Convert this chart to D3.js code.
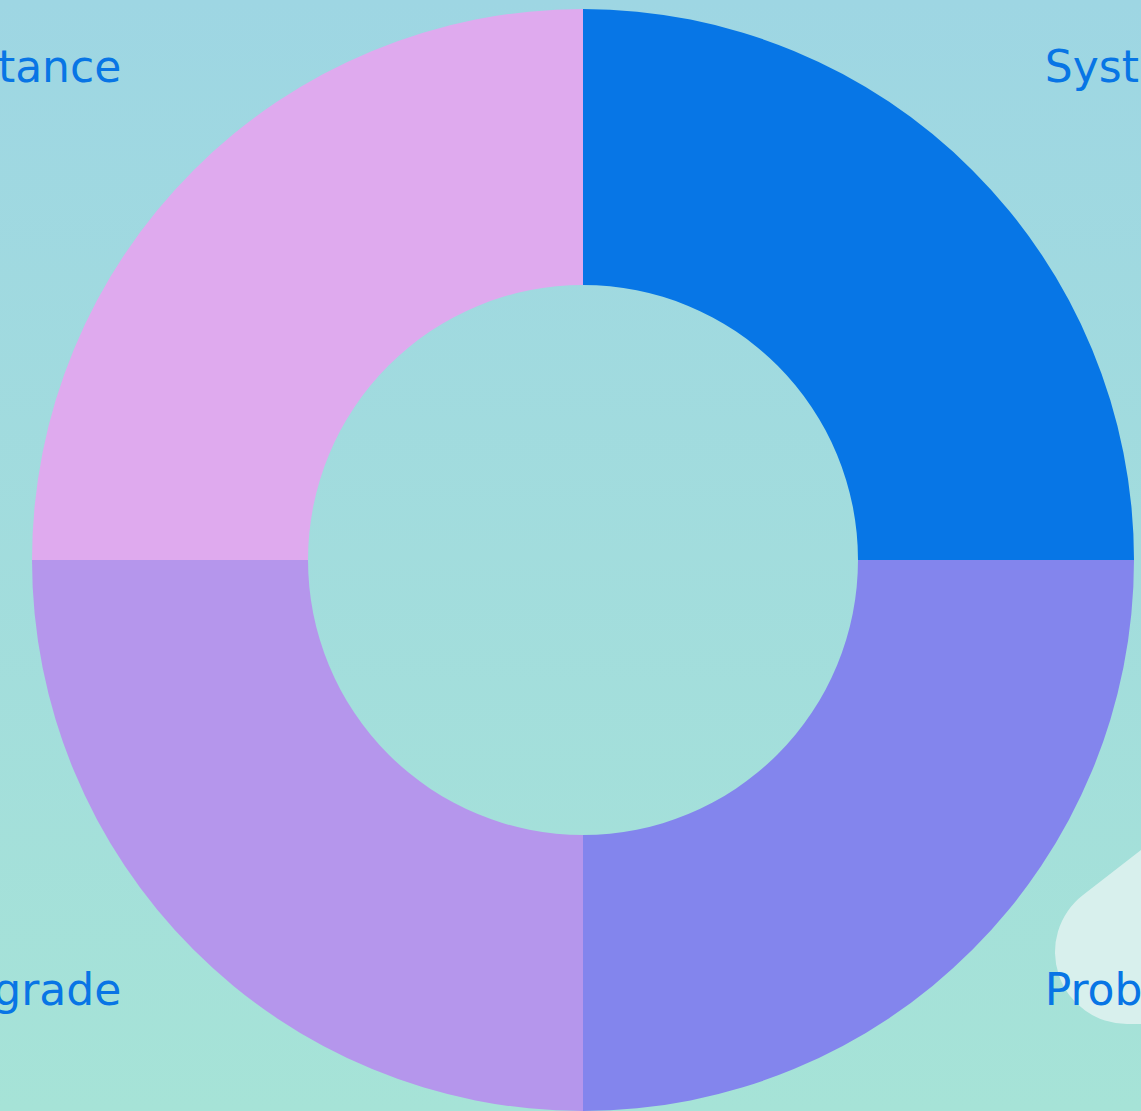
<!DOCTYPE html>
<html>
<head>
<meta charset="utf-8">
<script src="https://cdn.jsdelivr.net/npm/d3@7/dist/d3.min.js"></script>
<style>
  html, body { margin: 0; padding: 0; overflow: hidden; }
  body { width: 1141px; height: 1111px; }
  svg { display: block; }
</style>
</head>
<body>
<svg id="chart" width="1141" height="1111"></svg>
<script>
const categories = ["System", "Problem", "Upgrade", "Assistance"];
const values = [25, 25, 25, 25];
const colors = ["#0776e6", "#8385ed", "#b596ec", "#dfaaee"];

const W = 1141, H = 1111;
const cx = 583, cy = 560;
const outerR = 551, innerR = 275, labelR = 653;

const svg = d3.select("#chart");
const defs = svg.append("defs");
const grad = defs.append("linearGradient").attr("id", "bg")
  .attr("x1", 0).attr("y1", 0).attr("x2", 0).attr("y2", 1);
grad.append("stop").attr("offset", "0%").attr("stop-color", "#9ed6e3");
grad.append("stop").attr("offset", "100%").attr("stop-color", "#a6e3d7");

svg.append("rect").attr("width", W).attr("height", H).attr("fill", "url(#bg)");

// decorative light tooltip-like blob at lower right
svg.append("path")
  .attr("d", "M1141,850 L1083,895 A72,72 0 0 0 1127,1024 L1141,1024 Z")
  .attr("fill", "#d8f0ed");

const g = svg.append("g").attr("transform", `translate(${cx},${cy})`);
const pie = d3.pie().sort(null).value(d => d.v);
const data = pie(categories.map((c, i) => ({ c, v: values[i], col: colors[i] })));
const arc = d3.arc().innerRadius(innerR).outerRadius(outerR);
const labelArc = d3.arc().innerRadius(labelR).outerRadius(labelR);

g.selectAll("path.slice").data(data).enter().append("path")
  .attr("class", "slice")
  .attr("d", arc)
  .attr("fill", d => d.data.col);

g.selectAll("text.lbl").data(data).enter().append("text")
  .attr("class", "lbl")
  .attr("x", d => labelArc.centroid(d)[0])
  .attr("y", d => labelArc.centroid(d)[1])
  .attr("dy", "-0.38em")
  .attr("text-anchor", d => labelArc.centroid(d)[0] > 0 ? "start" : "end")
  .attr("font-family", "'DejaVu Sans', sans-serif")
  .attr("font-size", 44)
  .attr("fill", "#0875e5")
  .text(d => d.data.c);
</script>
</body>
</html>
